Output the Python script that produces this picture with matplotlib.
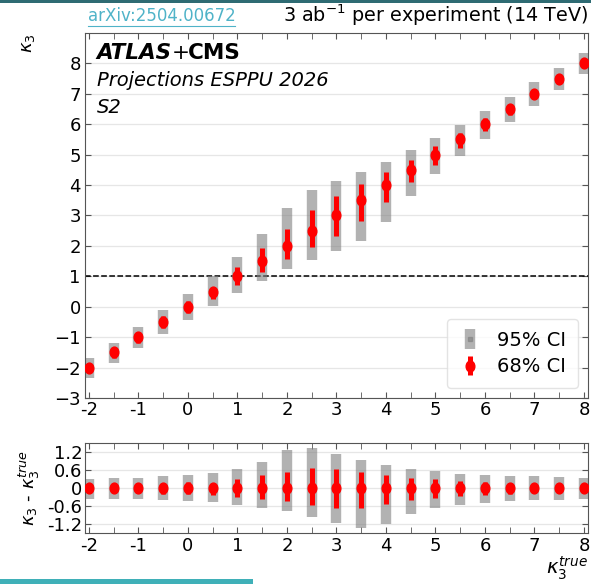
import matplotlib
matplotlib.use("Agg")
import matplotlib.pyplot as plt
from matplotlib.ticker import MultipleLocator, FixedLocator
from matplotlib.path import Path
import numpy as np

# kappa_3 true values and CI half-widths (up / down)
k3_true = [-2, -1.5, -1, -0.5, 0, 0.5, 1, 1.5, 2, 2.5, 3, 3.5, 4, 4.5, 5,
           5.5, 6, 6.5, 7, 7.5, 8]
ci95_up = [0.30, 0.32, 0.35, 0.39, 0.43, 0.51, 0.63, 0.88, 1.26, 1.33, 1.14,
           0.93, 0.76, 0.64, 0.56, 0.47, 0.43, 0.41, 0.39, 0.36, 0.35]
ci95_dn = [0.35, 0.36, 0.37, 0.41, 0.44, 0.47, 0.56, 0.65, 0.77, 0.95, 1.17,
           1.34, 1.21, 0.87, 0.65, 0.56, 0.49, 0.44, 0.41, 0.39, 0.36]
ci68_up = [0.15, 0.16, 0.17, 0.18, 0.19, 0.16, 0.31, 0.42, 0.55, 0.67, 0.63,
           0.52, 0.42, 0.33, 0.29, 0.22, 0.20, 0.18, 0.17, 0.16, 0.15]
ci68_dn = [0.16, 0.17, 0.18, 0.19, 0.20, 0.23, 0.29, 0.37, 0.42, 0.55, 0.66,
           0.67, 0.54, 0.41, 0.33, 0.28, 0.22, 0.19, 0.18, 0.17, 0.16]

x_ticks = [-2, -1, 0, 1, 2, 3, 4, 5, 6, 7, 8]
x_ticklabels = ["-2", "-1", "0", "1", "2", "3", "4", "5", "6", "7", "8"]
res_ticks = [-1.2, -0.6, 0, 0.6, 1.2]
res_ticklabels = ["-1.2", "-0.6", "0", "0.6", "1.2"]

plt.rcParams['font.family'] = ['DejaVu Sans']
plt.rcParams['mathtext.fontset'] = 'dejavusans'

fig = plt.figure(figsize=(5.91, 5.84), dpi=100)
ax = fig.add_axes([0.1438, 0.3185, 0.851, 0.625])
axr = fig.add_axes([0.1438, 0.0873, 0.851, 0.1541])

x = np.array(k3_true)
err95 = [ci95_dn, ci95_up]
err68 = [ci68_dn, ci68_up]

# slightly tall ellipse marker, like the reference dots
circ = Path.unit_circle()
oval = Path(circ.vertices * np.array([0.8, 1.0]), circ.codes)


def draw(a, yc):
    a.errorbar(x, yc, yerr=err95, fmt='s', color='gray', ms=3, elinewidth=7.5,
               capsize=0, alpha=0.6, label='95% CI', zorder=2)
    a.errorbar(x, yc, yerr=err68, fmt='none', ecolor='red', elinewidth=3.6,
               capsize=0, zorder=3)
    a.plot(x, yc, ls='none', marker=oval, ms=7.8, color='red', mec='red',
           zorder=4)


draw(ax, x)
draw(axr, np.zeros_like(x))

ax.axhline(1, color='black', ls='--', lw=1.1, zorder=1)

for a in (ax, axr):
    a.set_xlim(-2.08, 8.08)
    a.xaxis.set_major_locator(FixedLocator(x_ticks))
    a.xaxis.set_minor_locator(MultipleLocator(0.5))
    a.set_xticklabels(x_ticklabels)
    a.tick_params(which='both', direction='in', top=True, right=True,
                  labelsize=13, length=4, color='#555555', pad=3)
    a.grid(axis='y', color='#e6e6e6', lw=0.9, zorder=0)
    a.set_axisbelow(True)
    for s in a.spines.values():
        s.set_color('#555555')

ax.set_ylim(-3, 9)
ax.yaxis.set_major_locator(FixedLocator(range(-3, 9)))
ax.tick_params(axis='x', pad=2)

axr.set_ylim(-1.5, 1.5)
axr.yaxis.set_major_locator(FixedLocator(res_ticks))
axr.set_yticklabels(res_ticklabels)
axr.tick_params(axis='y', labelsize=13, pad=2)

# legend handles: gray bar with marker, red bar with oval marker
h95 = ax.errorbar([], [], yerr=[], fmt='s', color='gray', ms=3,
                  elinewidth=7.5, capsize=0, alpha=0.6)
h68 = ax.errorbar([], [], yerr=[], fmt='none', ecolor='red',
                  elinewidth=3.6, capsize=0)
h68m, = ax.plot([], [], ls='none', marker=oval, ms=7.8, color='red')
ax.legend([h95, (h68, h68m)], ['95% CI', '68% CI'], loc='lower right',
          fontsize=14, frameon=True, borderpad=0.6, handlelength=1.2,
          labelspacing=0.4, borderaxespad=0, bbox_to_anchor=(0.98, 0.027),
          edgecolor='#dddddd')

# labels
fig.text(0.048, 0.9435, r'$\kappa_3$', rotation=90, ha='center', va='top',
         fontsize=13)
fig.text(0.05, 0.164, r'$\kappa_3$ - $\kappa_3^{true}$', rotation=90,
         ha='center', va='center', fontsize=13)
fig.text(0.995, 0.003, r'$\kappa_3^{true}$', ha='right', va='bottom', fontsize=14)

atl = ax.text(0.023, 0.972, 'ATLAS', transform=ax.transAxes, fontsize=15.5,
              fontweight='bold', style='italic', va='top', ha='left')
ax.annotate('+', xy=(1, 0), xycoords=atl, va='bottom', ha='left',
            fontsize=15.5)
ax.annotate('CMS', xy=(1, 0), xycoords=atl, xytext=(12, 0),
            textcoords='offset points', va='bottom', ha='left',
            fontsize=15.5, fontweight='bold')
ax.text(0.023, 0.895, 'Projections ESPPU 2026', transform=ax.transAxes,
        fontsize=14, style='italic', va='top', ha='left')
ax.text(0.023, 0.823, 'S2', transform=ax.transAxes, fontsize=14,
        style='italic', va='top', ha='left')

fig.text(0.995, 0.952, r'3 ab$^{-1}$ per experiment (14 TeV)', ha='right',
         va='bottom', fontsize=13.8)
fig.text(0.149, 0.958, 'arXiv:2504.00672', ha='left', va='bottom',
         fontsize=12, color='#4fb3c8')

# slide decorations: thin teal bars
fig.add_artist(plt.Rectangle((0, 0.995), 1, 0.005, transform=fig.transFigure,
                             color='#2e6b73', lw=0))
fig.add_artist(plt.Rectangle((0, 0), 0.428, 0.008, transform=fig.transFigure,
                             color='#3fb0b8', lw=0))
fig.add_artist(plt.Line2D([0.149, 0.397], [0.955, 0.955],
                          transform=fig.transFigure, color='#4fb3c8', lw=0.8))

fig.savefig('out.png', dpi=100)
